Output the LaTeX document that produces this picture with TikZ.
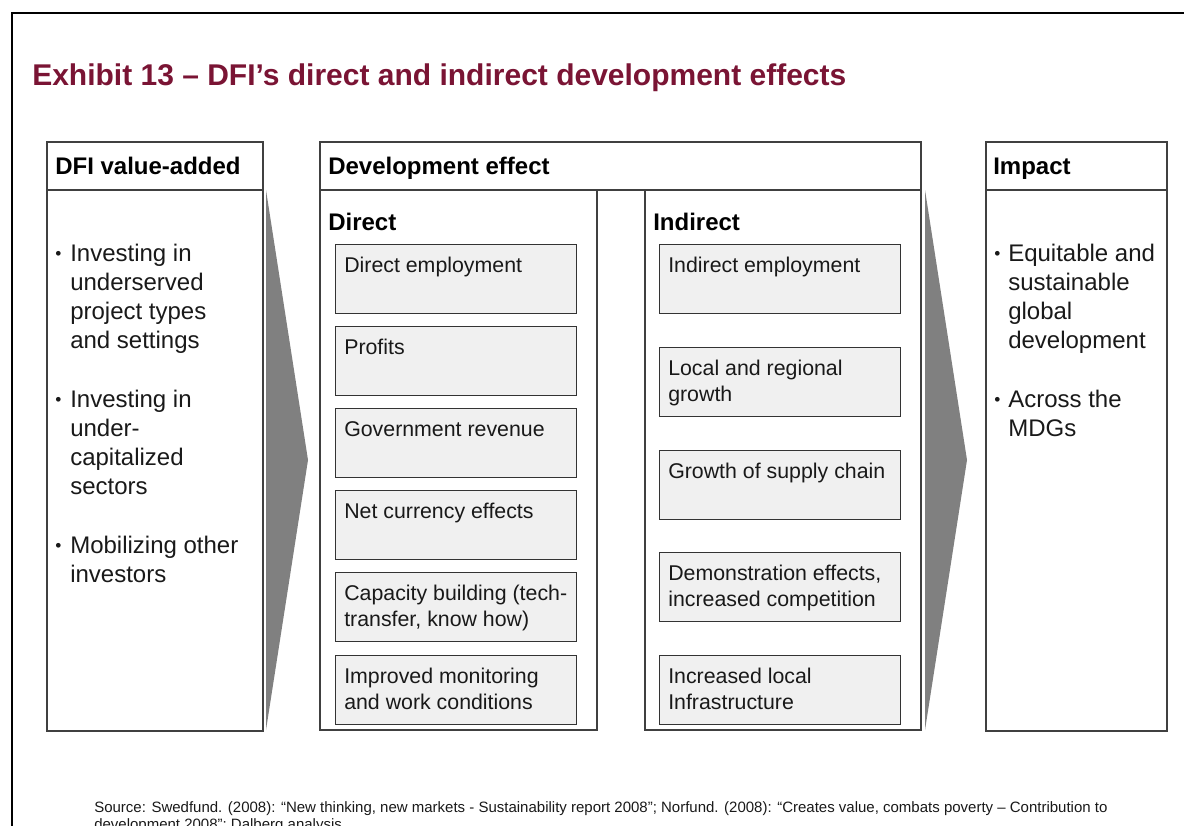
\documentclass[tikz,border=0pt]{standalone}
\usepackage{fontspec}
\setmainfont{Liberation Sans}
\definecolor{maroon}{RGB}{122,20,52}
\definecolor{boxfill}{RGB}{240,240,240}
\definecolor{linegray}{RGB}{64,64,64}
\newcommand{\lines}[1]{\begin{tabular}[t]{@{}l@{}}#1\end{tabular}}
\begin{document}
\begin{tikzpicture}[x=0.75pt,y=-0.75pt,
  frame/.style={line width=2pt,draw=black},
  panel/.style={draw=linegray,line width=1pt},
  itembox/.style={draw=black!80,fill=boxfill,line width=1pt,anchor=north west,
    minimum width=180.75pt,minimum height=51.75pt,inner sep=0pt},
  wedge/.style={fill=black!50,draw=none},
  hdr/.style={anchor=base west,inner sep=0pt,font=\bfseries\fontsize{18}{21}\selectfont,text=black},
  bul/.style={anchor=base west,inner sep=0pt,font=\fontsize{18}{21.75}\selectfont,text=black!90},
  dot/.style={anchor=base west,inner sep=0pt,font=\fontsize{13}{15}\selectfont,text=black!90},
  itemtxt/.style={anchor=base west,inner sep=0pt,font=\fontsize{16}{19.5}\selectfont,text=black!90},
]
\useasboundingbox (0,0) rectangle (1184,825);
\newcommand{\itm}[4]{%
  \node[itembox] (#1) at (#2,#3) {};
  \node[itemtxt] (#1t) at ([xshift=6.75pt,yshift=-21.4pt]#1.north west) {\lines{#4}};}

% frame
\draw[frame] (12,835) -- (12,13) -- (1194,13);

% title
\node[anchor=base west,inner sep=0pt,text=maroon,font=\bfseries\fontsize{22.5}{26}\selectfont] (title) at (32,85)
  {Exhibit 13 – DFI’s direct and indirect development effects};

% panels
\draw[panel] (47,142) rectangle (263,731);
\draw[panel] (47,190) -- (263,190);
\draw[panel] (320,142) rectangle (921,190);
\draw[panel] (320,190) rectangle (597,730);
\draw[panel] (645,190) rectangle (921,730);
\draw[panel] (986,142) rectangle (1167,731);
\draw[panel] (986,190) -- (1167,190);

% wedges
\fill[wedge] (266,190) -- (308,460) -- (266,730) -- cycle;
\fill[wedge] (925,190) -- (967,460) -- (925,730) -- cycle;

% headers
\node[hdr] (h1) at (55,174) {DFI value-added};
\node[hdr] (h2) at (328,174) {Development effect};
\node[hdr] (h3) at (993,174) {Impact};
\node[hdr] (hd) at (328,230) {Direct};
\node[hdr] (hi) at (653,230) {Indirect};

% DFI bullets
\node[dot] (db1) at (55,259) {•};
\node[bul] (b1) at (70,261) {\lines{Investing in\\underserved\\project types\\and settings}};
\node[dot] (db2) at (55,405) {•};
\node[bul] (b2) at (70,407) {\lines{Investing in\\under-\\capitalized\\sectors}};
\node[dot] (db3) at (55,551) {•};
\node[bul] (b3) at (70,553) {\lines{Mobilizing other\\investors}};

% Impact bullets
\node[dot] (ib1) at (994,259) {•};
\node[bul] (i1) at (1008,261) {\lines{Equitable and\\sustainable\\global\\development}};
\node[dot] (ib2) at (994,405) {•};
\node[bul] (i2) at (1008,407) {\lines{Across the\\MDGs}};

% direct items
\itm{d1}{335}{244}{Direct employment}
\itm{d2}{335}{326}{Profits}
\itm{d3}{335}{408}{Government revenue}
\itm{d4}{335}{490}{Net currency effects}
\itm{d5}{335}{572}{Capacity building (tech-\\transfer, know how)}
\itm{d6}{335}{655}{Improved monitoring\\and work conditions}

% indirect items
\itm{n1}{659}{244}{Indirect employment}
\itm{n2}{659}{347}{Local and regional\\growth}
\itm{n3}{659}{450}{Growth of supply chain}
\itm{n4}{659}{552}{Demonstration effects,\\increased competition}
\itm{n5}{659}{655}{Increased local\\Infrastructure}

% source
\node[anchor=base west,inner sep=0pt,font=\fontsize{11.25}{12.75}\selectfont,text=black!90] (src) at (94,812)
  {\lines{Source: Swedfund. (2008): “New thinking, new markets - Sustainability report 2008”; Norfund. (2008): “Creates  value, combats poverty – Contribution to\\development 2008”; Dalberg analysis}};
\end{tikzpicture}
\end{document}
